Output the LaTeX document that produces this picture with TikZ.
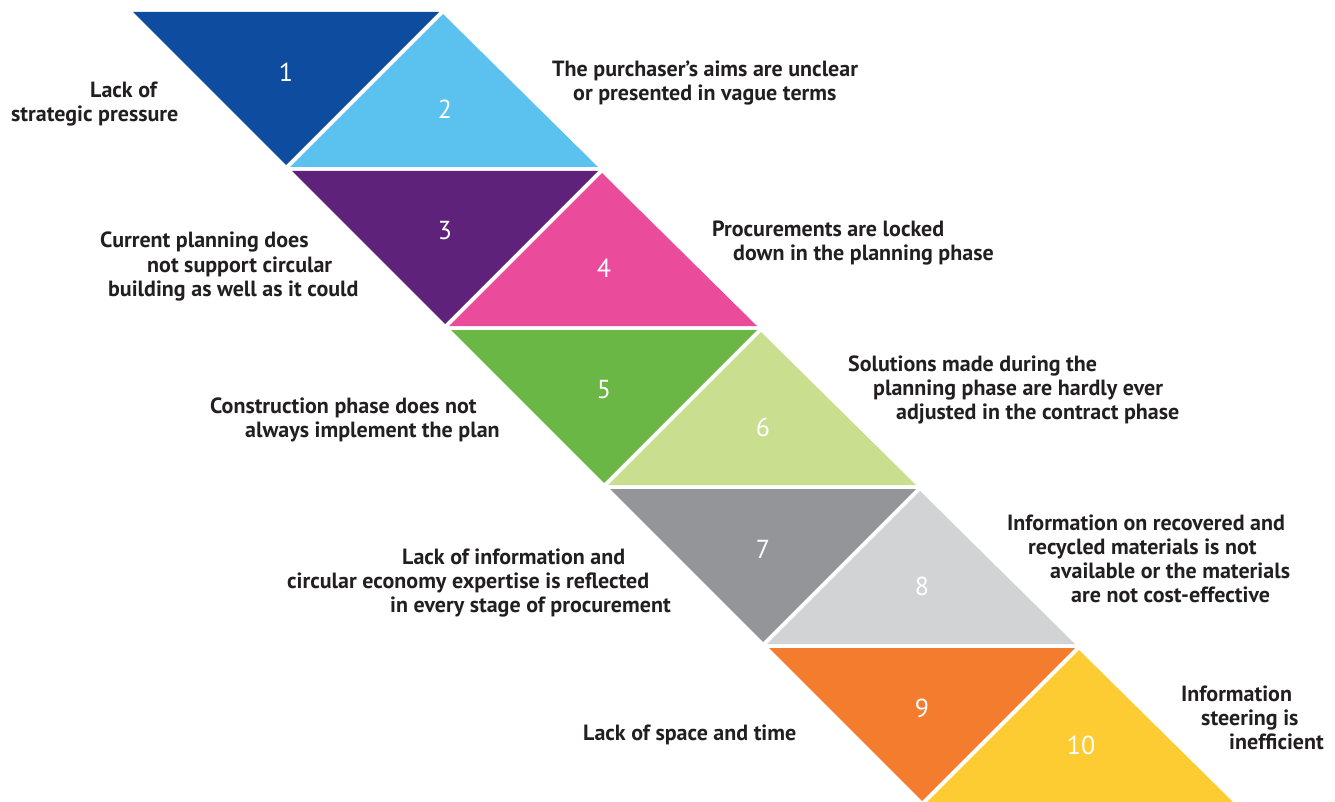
\documentclass[tikz,border=0pt]{standalone}
\usepackage{fontspec}
\setmainfont{PT Sans}
\usepackage{tikz}
\definecolor{c1}{HTML}{0D4C9E}
\definecolor{c2}{HTML}{5BC2EF}
\definecolor{c3}{HTML}{5E227B}
\definecolor{c4}{HTML}{EA4C9B}
\definecolor{c5}{HTML}{6BB745}
\definecolor{c6}{HTML}{C9DE8E}
\definecolor{c7}{HTML}{939598}
\definecolor{c8}{HTML}{D1D3D4}
\definecolor{c9}{HTML}{F47C2F}
\definecolor{c10}{HTML}{FDCC33}
\definecolor{txt}{HTML}{231F20}
\tikzstyle{num}=[text=white, inner sep=0pt, font=\fontsize{26}{26}\selectfont]
\tikzstyle{annot}=[anchor=base west, inner sep=0pt, align=left, text=txt,
                   font=\fontsize{22}{24}\selectfont\bfseries]

\begin{document}
\begin{tikzpicture}[x=1pt,y=-1pt]
    \useasboundingbox (0,0) rectangle (1335,802);

    % Draw the pairs of triangles, one band at a time
    \foreach \k / \ca / \cb / \na / \nb in {0/c1/c2/1/2, 1/c3/c4/3/4, 2/c5/c6/5/6, 3/c7/c8/7/8, 4/c9/c10/9/10}
    {
        \fill[\ca] (133+159*\k, 12+159*\k) -- ++(306,0) -- ++(-153,153) -- cycle;
        \fill[\cb] (443+159*\k, 14+159*\k) -- ++(-153,153) -- ++(308,0) -- cycle;
        \node[num] (N-\na) at (286+159*\k, 72+159*\k) {\na};
        \node[num] (N-\nb) at (445+159*\k, 109+159*\k) {\nb};
    }

    % Annotate the triangles (base = baseline of the last line)
    \node[annot] (L1) at (11,122) {\hspace*{79pt}Lack of\\strategic pressure};
    \node[annot] (L2) at (552,101) {The purchaser’s aims are unclear\\\hspace*{21pt}or presented in vague terms};
    \node[annot] (L3) at (100,296) {Current planning does\\\hspace*{47pt}not support circular\\\hspace*{8pt}building as well as it could};
    \node[annot] (L4) at (712,261) {Procurements are locked\\\hspace*{21pt}down in the planning phase};
    \node[annot] (L5) at (210,437) {Construction phase does not\\\hspace*{35pt}always implement the plan};
    \node[annot] (L6) at (848,419) {Solutions made during the\\\hspace*{25pt}planning phase are hardly ever\\\hspace*{48pt}adjusted in the contract phase};
    \node[annot] (L7) at (287,612) {\hspace*{115pt}Lack of information and\\circular economy expertise is reflected\\\hspace*{103pt}in every stage of procurement};
    \node[annot] (L8) at (1007,602) {Information on recovered and\\\hspace*{21pt}recycled materials is not\\\hspace*{43pt}available or the materials\\\hspace*{64pt}are not cost-effective};
    \node[annot] (L9) at (583,740) {Lack of space and time};
    \node[annot] (L10) at (1181,749) {Information\\\hspace*{20pt}steering is\\\hspace*{48pt}inefficient};

\end{tikzpicture}
\end{document}
